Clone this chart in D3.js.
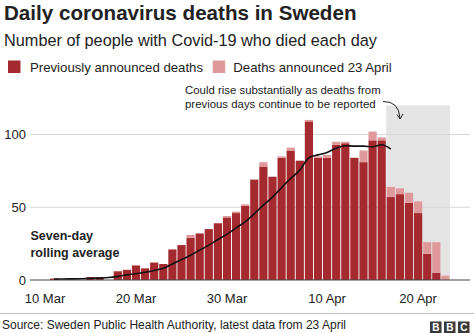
<!DOCTYPE html>
<html><head><meta charset="utf-8">
<script src="https://cdn.jsdelivr.net/npm/d3@7"></script>
<style>
body{margin:0;background:#fff}
svg{display:block}
text{font-family:"Liberation Sans",Arial,Helvetica,sans-serif;fill:#222}
</style>
</head><body><svg id="c" width="474" height="333"></svg>
<script>
const dates = ["10 Mar","11 Mar","12 Mar","13 Mar","14 Mar","15 Mar","16 Mar","17 Mar","18 Mar","19 Mar",
  "20 Mar","21 Mar","22 Mar","23 Mar","24 Mar","25 Mar","26 Mar","27 Mar","28 Mar","29 Mar",
  "30 Mar","31 Mar","1 Apr","2 Apr","3 Apr","4 Apr","5 Apr","6 Apr","7 Apr","8 Apr",
  "9 Apr","10 Apr","11 Apr","12 Apr","13 Apr","14 Apr","15 Apr","16 Apr","17 Apr","18 Apr",
  "19 Apr","20 Apr","21 Apr","22 Apr","23 Apr"];
const previouslyAnnounced = [0,1,0,0,0,2,2,0,6,7,
  10,8,12,11,21,24,29,32,35,39,
  43,46,51,69,78,71,84,89,82,109,
  84,84,93,94,84,81,96,96,57,59,
  53,46,18,5,0];
const announced23April = [0,0,0,0,0,0,0,0,0,0,
  0,0,0,0,0,0,2,0,0,0,
  1,1,1,0,3,0,1,2,0,1,
  1,2,2,1,0,8,6,2,7,4,
  7,8,8,21,3];
const rollingAverage = [null,0.7,0.7,0.8,0.9,1.1,1.3,1.7,2.5,3.5,
  4.4,5.3,6.5,8,11,14,17,20.5,24,27.8,
  31.5,35.8,40,45.5,51.5,57,63.5,69.8,75.5,84,
  86,87.7,90.5,92.3,92,92,91.5,93,90];
const yTicks = [0,50,100];
const xTickLabels = ["10 Mar","20 Mar","30 Mar","10 Apr","20 Apr"];
const incompleteFrom = "17 Apr", incompleteTo = "23 Apr";
const seriesNames = ["Previously announced deaths","Deaths announced 23 April"];
const colors = ["#a52a2f","#e0999b"];

const svg = d3.select("#c");
const x = d3.scaleBand().domain(dates).range([40.45, 449.95]).paddingInner(0.1).paddingOuter(0.05);
const y = d3.scaleLinear().domain([0,120]).range([280,105.4]);

// incomplete-data shading
svg.append("rect")
  .attr("x", x(incompleteFrom) - x.step()*x.paddingInner()/2)
  .attr("y", y(120))
  .attr("width", x(incompleteTo) + x.bandwidth() + x.step()*x.paddingInner()/2 - (x(incompleteFrom) - x.step()*x.paddingInner()/2))
  .attr("height", y(0)-y(120))
  .attr("fill","#e4e4e4");

// gridlines
svg.append("g").selectAll("line").data(yTicks.filter(d=>d>0)).join("line")
  .attr("x1",30).attr("x2",470).attr("y1",d=>y(d)).attr("y2",d=>y(d))
  .attr("stroke","#d8d8d8").attr("stroke-width",1);

// stacked bars
const rows = dates.map((d,i)=>({date:d, a:previouslyAnnounced[i], b:announced23April[i]}));
const stack = d3.stack().keys(["a","b"])(rows);
svg.append("g").selectAll("g").data(stack).join("g")
  .attr("fill",(s,i)=>colors[i])
  .selectAll("rect").data(s=>s).join("rect")
  .attr("x",d=>x(d.data.date))
  .attr("width",x.bandwidth())
  .attr("y",d=>y(d[1]))
  .attr("height",d=>y(d[0])-y(d[1]));

// baseline
svg.append("line").attr("x1",30).attr("x2",470).attr("y1",y(0)).attr("y2",y(0))
  .attr("stroke","#444").attr("stroke-width",1);

// rolling average line
const line = d3.line()
  .defined(d=>d[1]!=null)
  .x(d=>x(d[0])+x.bandwidth()/2)
  .y(d=>y(d[1]))
  .curve(d3.curveMonotoneX);
svg.append("path")
  .datum(rollingAverage.map((v,i)=>[dates[i],v]))
  .attr("d",line).attr("fill","none").attr("stroke","#111").attr("stroke-width",1.6);

// y axis labels
const yAxis = d3.axisLeft(y).tickValues(yTicks).tickSize(0).tickPadding(0);
const gy = svg.append("g").attr("transform","translate(26,0)").call(yAxis);
gy.select(".domain").remove();
gy.selectAll("text").style("font-size","13px").attr("fill","#222")
  .style("font-family","'Liberation Sans',Arial,sans-serif");

// x axis labels
const xAxis = d3.axisBottom(x).tickValues(xTickLabels).tickSize(0).tickPadding(0);
const gx = svg.append("g").attr("transform","translate(0,294)").call(xAxis);
gx.select(".domain").remove();
gx.selectAll("text").style("font-size","13px").attr("fill","#222").attr("dy","0.71em")
  .style("font-family","'Liberation Sans',Arial,sans-serif");

// titles
svg.append("text").attr("x",4).attr("y",19.5).text("Daily coronavirus deaths in Sweden")
  .style("font-size","20.6px").style("font-weight","bold");
svg.append("text").attr("x",4).attr("y",46).text("Number of people with Covid-19 who died each day")
  .style("font-size","16.3px");

// legend
const legX = [8, 212.7], legTX = [30, 233.3];
seriesNames.forEach((n,i)=>{
  svg.append("rect").attr("x",legX[i]).attr("y",60.5).attr("width",12.5).attr("height",12.5).attr("fill",colors[i]);
  svg.append("text").attr("x",legTX[i]).attr("y",71.5).text(n).style("font-size","13.2px");
});

// annotation
const ann = svg.append("text").style("font-size","11.4px");
ann.append("tspan").attr("x",185).attr("y",94).text("Could rise substantially as deaths from");
ann.append("tspan").attr("x",185).attr("y",108).text("previous days continue to be reported");
svg.append("path").attr("d","M383,101.5 Q399,101 400,118.5").attr("fill","none").attr("stroke","#222").attr("stroke-width",1);
svg.append("path").attr("d","M397,114.5 L400,119 L403,114").attr("fill","none").attr("stroke","#222").attr("stroke-width",1);

const ra = svg.append("text").style("font-size","12.5px").style("font-weight","bold");
ra.append("tspan").attr("x",30.5).attr("y",240).text("Seven-day");
ra.append("tspan").attr("x",30.5).attr("y",257).text("rolling average");

// footer
svg.append("line").attr("x1",0).attr("x2",474).attr("y1",313.5).attr("y2",313.5).attr("stroke","#bdbdbd").attr("stroke-width",1);
svg.append("text").attr("x",2).attr("y",328.5).text("Source: Sweden Public Health Authority, latest data from 23 April")
  .style("font-size","12px");
["B","B","C"].forEach((l,i)=>{
  const bx = 430 + i*14;
  svg.append("rect").attr("x",bx).attr("y",321.5).attr("width",11.5).attr("height",11.5).attr("fill","#3a3a3a");
  svg.append("text").attr("x",bx+5.75).attr("y",331).attr("text-anchor","middle").text(l)
    .style("font-size","10px").style("font-weight","bold").attr("fill","#fff").style("fill","#fff");
});
</script>
</body></html>
